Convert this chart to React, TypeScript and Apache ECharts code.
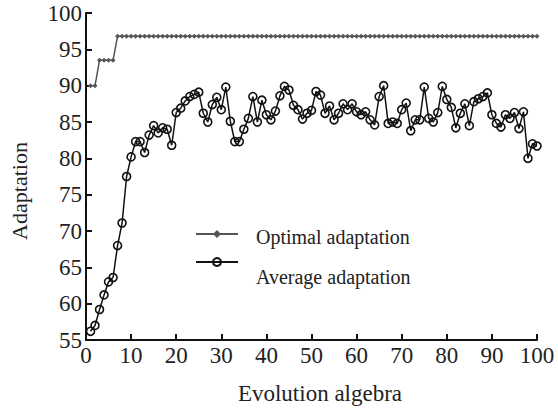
import React, { useEffect, useRef } from "react";
import * as echarts from "echarts";

const generations: number[] = Array.from({ length: 100 }, (_, i) => i + 1);

const optimalAdaptation: number[] = [
  90, 90, 93.5, 93.5, 93.5, 93.5, 96.8, 96.8, 96.8, 96.8,
  96.8, 96.8, 96.8, 96.8, 96.8, 96.8, 96.8, 96.8, 96.8, 96.8,
  96.8, 96.8, 96.8, 96.8, 96.8, 96.8, 96.8, 96.8, 96.8, 96.8,
  96.8, 96.8, 96.8, 96.8, 96.8, 96.8, 96.8, 96.8, 96.8, 96.8,
  96.8, 96.8, 96.8, 96.8, 96.8, 96.8, 96.8, 96.8, 96.8, 96.8,
  96.8, 96.8, 96.8, 96.8, 96.8, 96.8, 96.8, 96.8, 96.8, 96.8,
  96.8, 96.8, 96.8, 96.8, 96.8, 96.8, 96.8, 96.8, 96.8, 96.8,
  96.8, 96.8, 96.8, 96.8, 96.8, 96.8, 96.8, 96.8, 96.8, 96.8,
  96.8, 96.8, 96.8, 96.8, 96.8, 96.8, 96.8, 96.8, 96.8, 96.8,
  96.8, 96.8, 96.8, 96.8, 96.8, 96.8, 96.8, 96.8, 96.8, 96.8,
];

const averageAdaptation: number[] = [
  56.2, 57.0, 59.2, 61.2, 63.0, 63.6, 68.0, 71.1, 77.5, 80.2,
  82.3, 82.3, 80.8, 83.2, 84.5, 83.5, 84.2, 84.0, 81.8, 86.3,
  86.9, 87.9, 88.5, 88.8, 89.1, 86.2, 85.0, 87.4, 88.4, 86.7,
  89.8, 85.1, 82.3, 82.3, 84.0, 85.5, 88.5, 85.0, 88.0, 86.0,
  85.3, 86.5, 88.6, 89.9, 89.4, 87.3, 86.7, 85.4, 86.2, 86.6,
  89.2, 88.7, 86.2, 87.2, 85.3, 86.2, 87.5, 86.7, 87.5, 86.4,
  86.0, 86.4, 85.3, 84.6, 88.5, 90.0, 84.8, 85.0, 84.8, 86.7,
  87.6, 83.8, 85.3, 85.3, 89.8, 85.5, 85.0, 86.3, 89.9, 88.1,
  87.0, 84.2, 86.2, 87.5, 84.5, 87.8, 88.2, 88.5, 89.0, 86.0,
  84.8, 84.3, 86.0, 85.5, 86.3, 84.1, 86.4, 80.0, 82.0, 81.7,
];

const seriesNames = ["Optimal adaptation", "Average adaptation"];
const xAxisName = "Evolution algebra";
const yAxisName = "Adaptation";

const FONT = "'Liberation Serif', 'Times New Roman', serif";

export default function App() {
  const ref = useRef<HTMLDivElement>(null);
  useEffect(() => {
    if (!ref.current) return;
    const chart = echarts.init(ref.current, undefined, { renderer: "svg" });
    chart.setOption({
      animation: false,
      backgroundColor: "#ffffff",
      grid: { left: 86, right: 21, top: 13, bottom: 71, containLabel: false },
      xAxis: {
        type: "value",
        min: 0,
        max: 100,
        interval: 10,
        axisLine: { show: true, lineStyle: { color: "#111", width: 2 } },
        axisTick: { show: true, inside: true, length: 6, lineStyle: { color: "#111", width: 2 } },
        axisLabel: { color: "#222", fontFamily: FONT, fontSize: 23, margin: 4 },
        splitLine: { show: false },
      },
      yAxis: {
        type: "value",
        min: 55,
        max: 100,
        interval: 5,
        axisLine: { show: true, lineStyle: { color: "#111", width: 2 } },
        axisTick: { show: true, inside: true, length: 6, lineStyle: { color: "#111", width: 2 } },
        axisLabel: { color: "#222", fontFamily: FONT, fontSize: 23, margin: 4 },
        splitLine: { show: false },
      },
      legend: [
        {
          data: [seriesNames[0]],
          left: 190,
          top: 222,
          itemWidth: 42,
          itemHeight: 10,
          formatter: "{a|{name}}",
          textStyle: {
            fontFamily: FONT,
            fontSize: 20,
            color: "#222",
            rich: { a: { fontFamily: FONT, fontSize: 20, color: "#222", padding: [6, 0, 0, 13] } },
          },
        },
        {
          data: [seriesNames[1]],
          left: 190,
          top: 252,
          itemWidth: 42,
          itemHeight: 10,
          formatter: "{a|{name}}",
          textStyle: {
            fontFamily: FONT,
            fontSize: 20,
            color: "#222",
            rich: { a: { fontFamily: FONT, fontSize: 20, color: "#222", padding: [30, 0, 0, 13] } },
          },
        },
      ],
      graphic: [
        {
          type: "text",
          x: 8,
          y: 191,
          rotation: Math.PI / 2,
          style: {
            text: yAxisName,
            fontFamily: FONT,
            fontSize: 22,
            fill: "#222",
            align: "center",
            verticalAlign: "top",
          },
        },
        {
          type: "text",
          x: 320,
          y: 382,
          style: {
            text: xAxisName,
            fontFamily: FONT,
            fontSize: 23,
            fill: "#222",
            align: "center",
            verticalAlign: "top",
          },
        },
      ],
      series: [
        {
          name: seriesNames[0],
          type: "line",
          data: generations.map((g, i) => [g, optimalAdaptation[i]]),
          symbol: "diamond",
          symbolSize: 5,
          showAllSymbol: true,
          lineStyle: { color: "#555", width: 1.5 },
          itemStyle: { color: "#555" },
        },
        {
          name: seriesNames[1],
          type: "line",
          data: generations.map((g, i) => [g, averageAdaptation[i]]),
          symbol: "circle",
          symbolSize: 8,
          showAllSymbol: true,
          lineStyle: { color: "#111", width: 1.5 },
          itemStyle: { color: "rgba(255,255,255,0)", borderColor: "#111", borderWidth: 1.6 },
        },
      ],
    });
    return () => chart.dispose();
  }, []);
  return (
    <div
      ref={ref}
      style={{ position: "fixed", left: 0, top: 0, width: 558, height: 411 }}
    />
  );
}
